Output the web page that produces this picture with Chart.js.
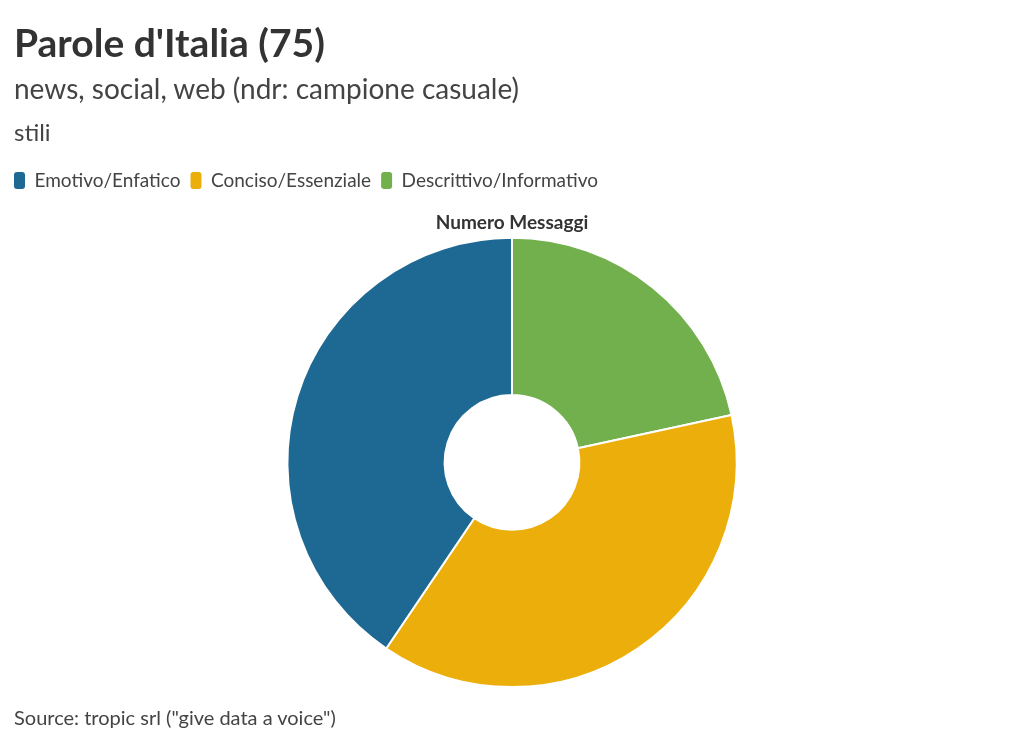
<!DOCTYPE html>
<html>
<head>
<meta charset="utf-8">
<script src="https://cdn.jsdelivr.net/npm/chart.js@4"></script>
<style>
  html, body { margin:0; padding:0; background:#fff; width:1024px; height:742px; overflow:hidden; font-family: Lato, "Noto Sans", sans-serif; }
  .t { position:absolute; left:14px; white-space:nowrap; }
  #title { top:19px; font-size:39px; line-height:46px; font-weight:700; color:#333; }
  #sub { top:71px; font-size:28px; line-height:34px; color:#444; }
  #sub2 { top:118px; font-size:24px; line-height:28px; color:#444; }
  #src { top:705px; font-size:20px; line-height:24px; color:#444; }
  #wrap { position:absolute; left:0; top:0; width:1024px; height:742px; }
</style>
</head>
<body>
<div id="wrap"><canvas id="c" width="1024" height="742"></canvas></div>
<div class="t" id="title">Parole d'Italia (75)</div>
<div class="t" id="sub">news, social, web (ndr: campione casuale)</div>
<div class="t" id="sub2">stili</div>
<div class="t" id="src">Source: tropic srl ("give data a voice")</div>
<script>
const categories = ["Descrittivo/Informativo", "Conciso/Essenziale", "Emotivo/Enfatico"];
const values = [8, 14, 15];
const colors = ["#72b04d", "#ecae0a", "#1e6994"];
const chartTitle = "Numero Messaggi";

new Chart(document.getElementById('c'), {
  type: 'doughnut',
  data: {
    labels: categories,
    datasets: [{
      label: chartTitle,
      data: values,
      backgroundColor: colors,
      borderColor: '#ffffff',
      borderWidth: 2,
      borderRadius: 0,
      hoverOffset: 0
    }]
  },
  options: {
    responsive: false,
    animation: false,
    cutout: '30%',
    layout: { padding: { top: 161, left: 4, right: 4, bottom: 54 } },
    plugins: {
      legend: {
        position: 'top',
        align: 'start',
        reverse: true,
        weight: 3000,
        labels: {
          font: { family: 'Lato', size: 19 },
          color: '#444',
          boxWidth: 11,
          boxHeight: 17,
          useBorderRadius: true,
          borderRadius: 3,
          padding: 10,
          generateLabels(chart) {
            const base = Chart.overrides.doughnut.plugins.legend.labels.generateLabels(chart);
            base.forEach(l => { l.strokeStyle = l.fillStyle; l.lineWidth = 0; });
            return base;
          }
        },
        onClick: null
      },
      title: {
        display: true,
        text: chartTitle,
        font: { family: 'Lato', size: 19, weight: 'bold' },
        color: '#333',
        padding: { top: 11, bottom: 3 }
      },
      tooltip: { enabled: false }
    }
  }
});
</script>
</body>
</html>
